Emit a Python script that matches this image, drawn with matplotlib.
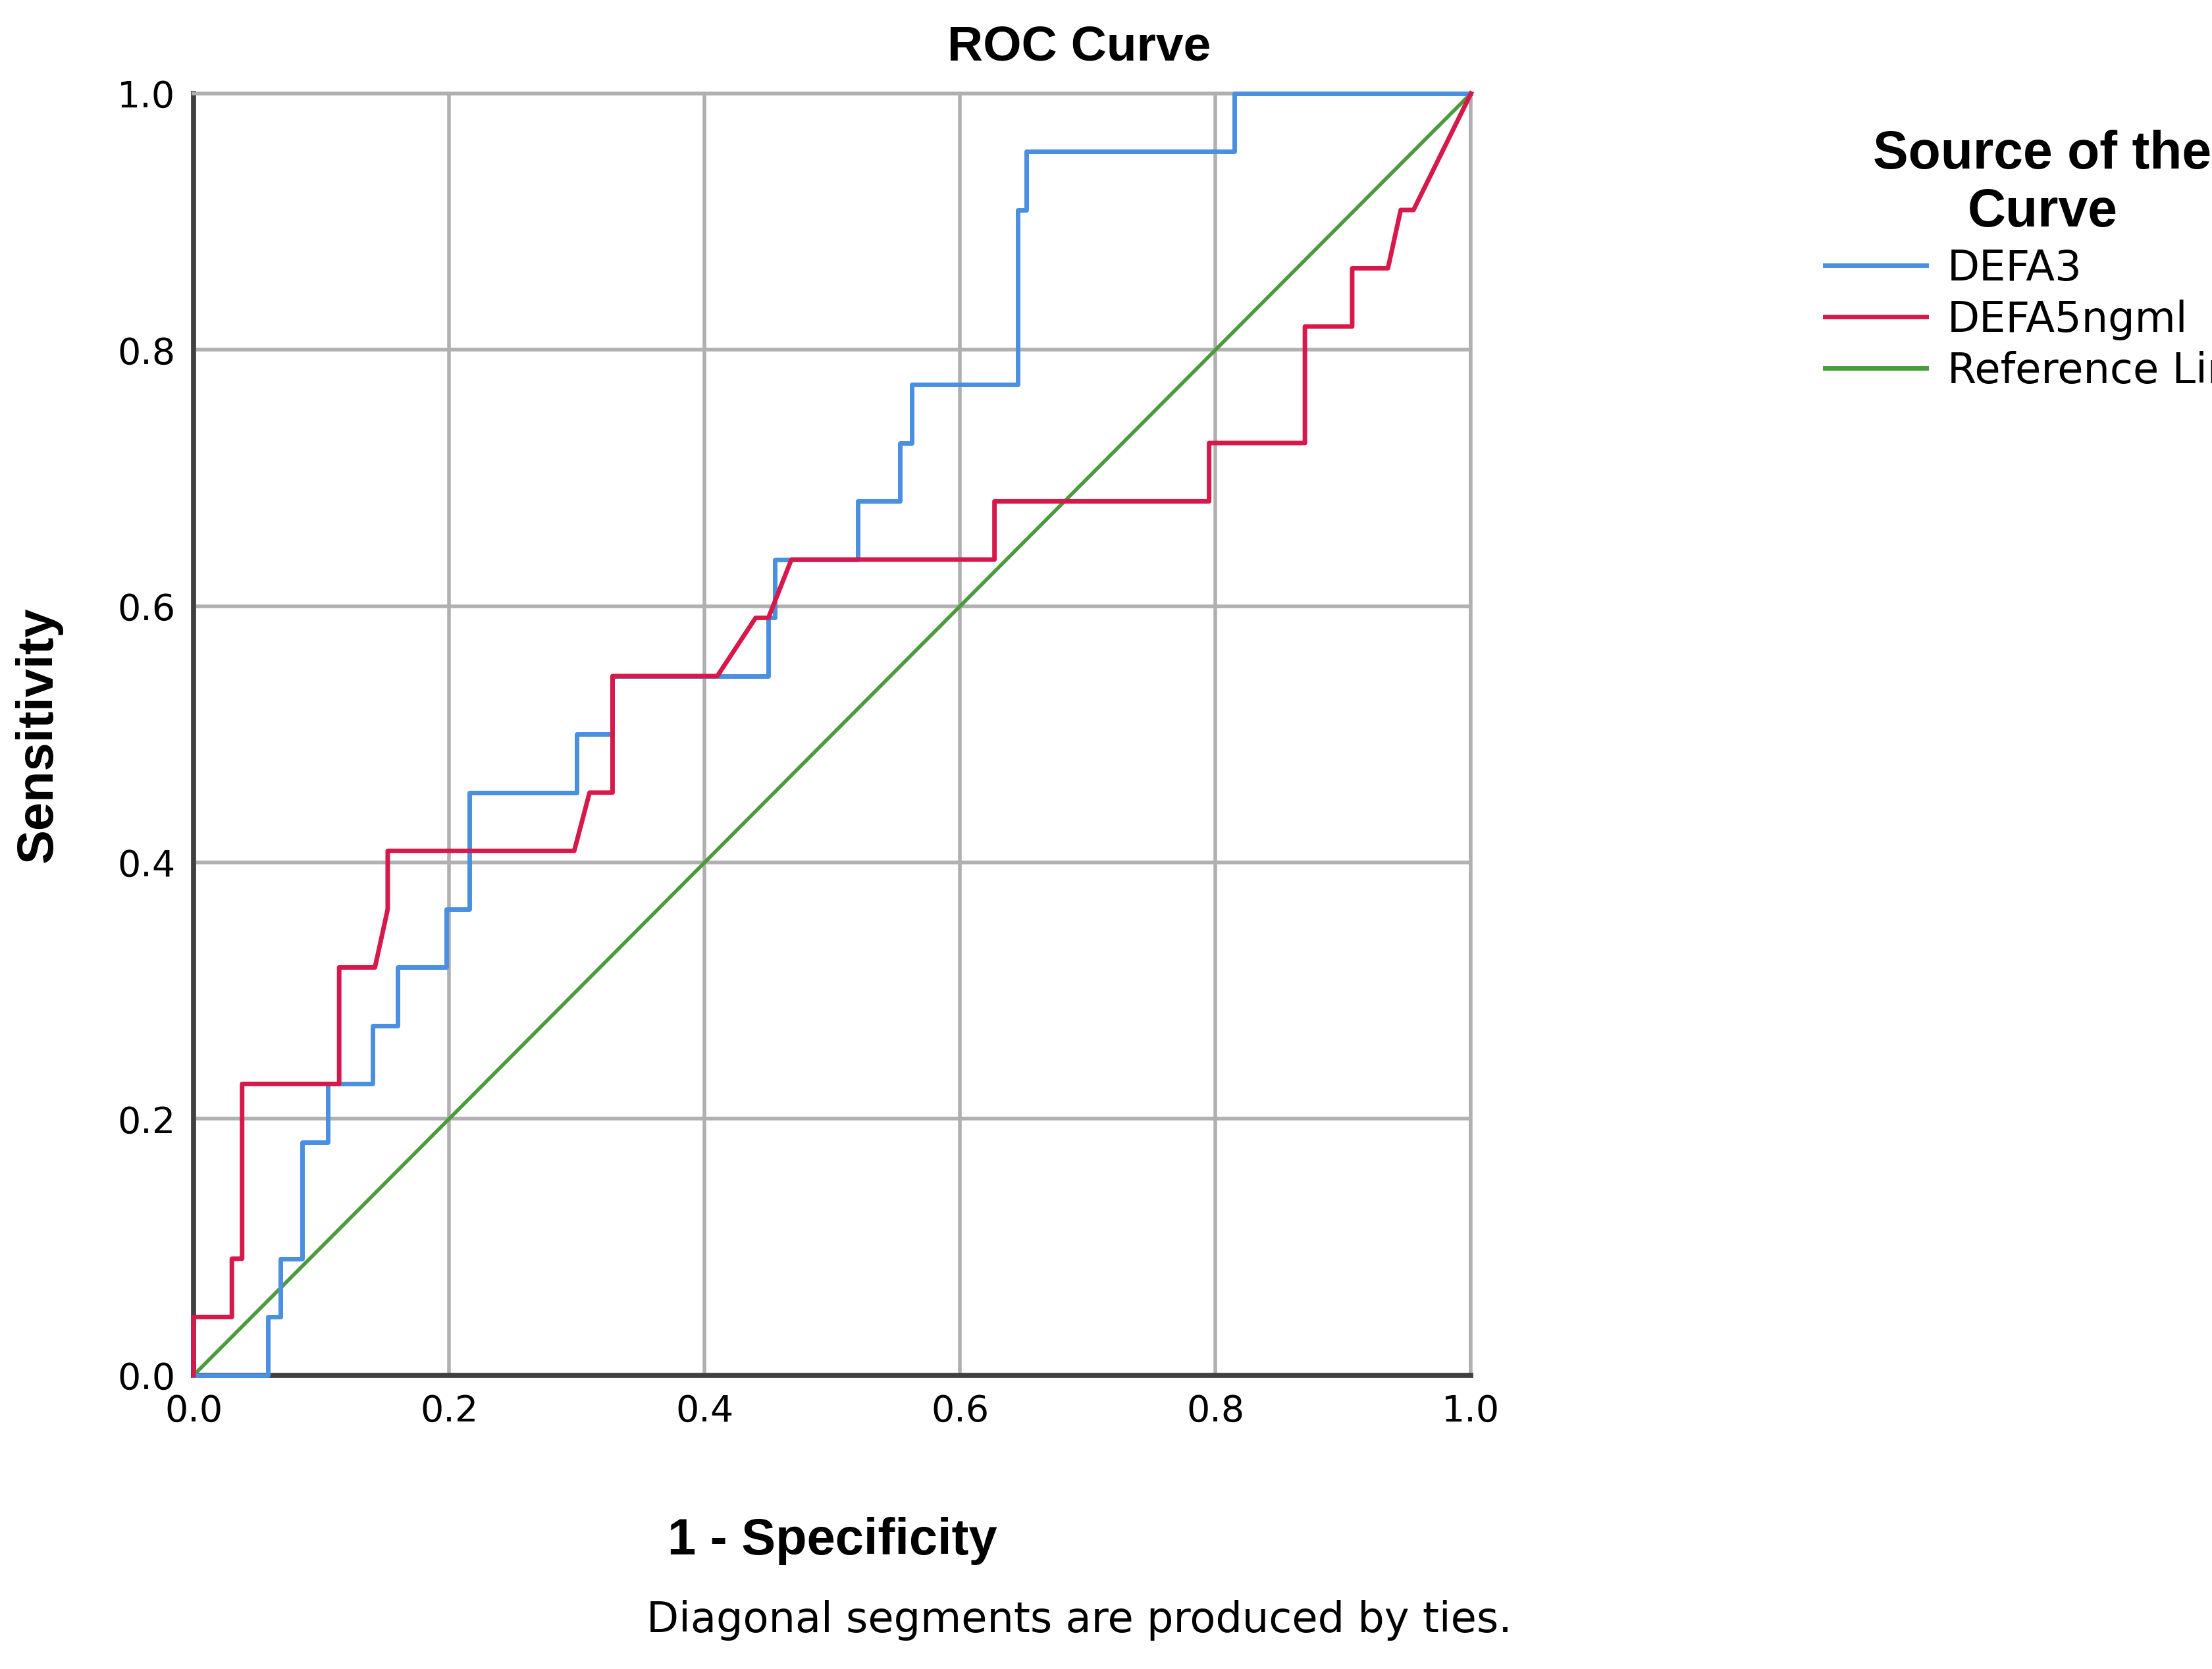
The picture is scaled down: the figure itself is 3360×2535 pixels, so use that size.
import matplotlib.pyplot as plt

# ROC points (1 - specificity, sensitivity)
defa3_x = [0, 0.058, 0.058, 0.068, 0.068, 0.085, 0.085, 0.105, 0.105, 0.14, 0.14, 0.16, 0.16,
           0.198, 0.198, 0.216, 0.216, 0.30, 0.30, 0.328, 0.328, 0.45, 0.45, 0.455, 0.455,
           0.52, 0.52, 0.553, 0.553, 0.562, 0.562, 0.645, 0.645, 0.652, 0.652, 0.815, 0.815, 1.0]
defa3_y = [0, 0, 1, 1, 2, 2, 4, 4, 5, 5, 6, 6, 7, 7, 8, 8, 10, 10, 11, 11, 12, 12, 13, 13, 14,
           14, 15, 15, 16, 16, 17, 17, 20, 20, 21, 21, 22, 22]

defa5_x = [0, 0, 0.03, 0.03, 0.038, 0.038, 0.114, 0.114, 0.142, 0.152, 0.152, 0.298, 0.31,
           0.328, 0.328, 0.41, 0.44, 0.45, 0.468, 0.627, 0.627, 0.795, 0.795, 0.87, 0.87,
           0.907, 0.907, 0.935, 0.945, 0.955, 1.0]
defa5_y = [0, 1, 1, 2, 2, 5, 5, 7, 7, 8, 9, 9, 10, 10, 12, 12, 13, 13, 14, 14, 15, 15, 16, 16,
           18, 18, 19, 19, 20, 20, 22]

n_pos = 22

fig = plt.figure(figsize=(16.8, 12.675), dpi=200)
ax = fig.add_axes([0.0875, 0.176, 0.5775, 0.768])

ax.plot(defa3_x, [v / n_pos for v in defa3_y], color='#4a8fe0', lw=2.5, label='DEFA3', clip_on=False, zorder=4)
ax.plot(defa5_x, [v / n_pos for v in defa5_y], color='#d6194a', lw=2.5, label='DEFA5ngml', clip_on=False, zorder=4)
ax.plot([0, 1], [0, 1], color='#4c9a3e', lw=2.0, label='Reference Line', zorder=3)

ax.set_xlim(0, 1)
ax.set_ylim(0, 1)
ticks = [0.0, 0.2, 0.4, 0.6, 0.8, 1.0]
ax.set_xticks(ticks)
ax.set_yticks(ticks)
ax.set_xticklabels([f"{t:.1f}" for t in ticks], fontsize=20)
ax.set_yticklabels([f"{t:.1f}" for t in ticks], fontsize=20)
ax.tick_params(length=0, pad=10)
ax.grid(True, color='#b0b0b0', lw=2.0)
ax.set_axisbelow(True)
for s in ax.spines.values():
    s.set_color('#b0b0b0')
    s.set_linewidth(2.0)
ax.spines['left'].set_color('#404040')
ax.spines['bottom'].set_color('#404040')
ax.spines['left'].set_linewidth(2.8)
ax.spines['bottom'].set_linewidth(2.8)

fig.text(0.488, 0.958, 'ROC Curve', ha='center', va='bottom', fontsize=27, fontweight='bold',
         family='Liberation Sans')
ax.set_xlabel('1 - Specificity', fontsize=28, fontweight='bold', family='Liberation Sans', labelpad=48)
ax.set_ylabel('Sensitivity', fontsize=28, fontweight='bold', family='Liberation Sans', labelpad=30)

leg = fig.legend(loc='upper left', bbox_to_anchor=(0.808, 0.945), frameon=False, fontsize=23,
                 title='Source of the\nCurve', handlelength=2.4, handletextpad=0.5, labelspacing=0.25)
leg.get_title().set_fontsize(29)
leg.get_title().set_fontweight('bold')
leg.get_title().set_family('Liberation Sans')
leg.get_title().set_multialignment('center')
for line in leg.get_lines():
    line.set_linewidth(2.5)

fig.text(0.488, 0.022, 'Diagonal segments are produced by ties.', ha='center', fontsize=23)

fig.savefig('out.png', dpi=200, facecolor='white')
